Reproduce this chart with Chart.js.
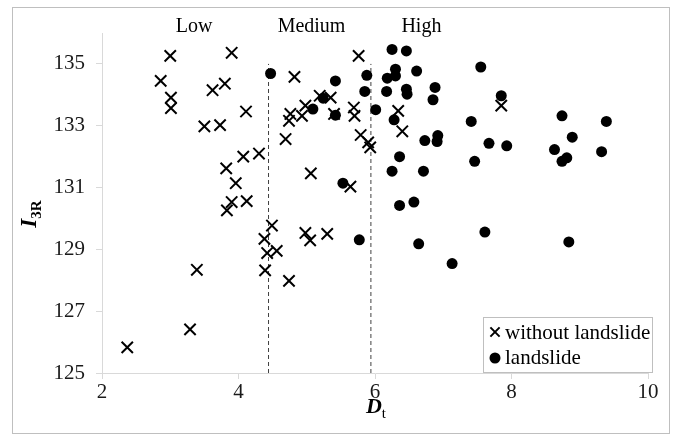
<!DOCTYPE html>
<html>
<head>
<meta charset="utf-8">
<script src="https://cdn.jsdelivr.net/npm/chart.js@4.4.0/dist/chart.umd.min.js"></script>
<style>
  html, body { margin: 0; padding: 0; background: #fff; }
  #wrap { width: 679px; height: 440px; }
</style>
</head>
<body>
<div id="wrap"><canvas id="myChart" width="679" height="440"></canvas></div>
<script>
// values
const noLandslideDt = [3.0, 3.9, 2.86, 3.01, 3.01, 3.62, 3.8, 4.11, 3.5, 3.73, 4.3, 4.07, 3.82, 3.96, 3.9, 3.83, 4.12,
    4.49, 4.38, 4.42, 4.56, 4.39, 4.74, 3.39, 3.29, 2.37,
    4.69, 5.76, 4.82, 5.19, 5.35, 4.98, 4.76, 4.74, 4.93, 5.4, 5.69, 5.7, 5.79, 5.9, 5.93, 5.06, 5.64, 4.98, 5.05, 5.3,
    6.34, 6.4, 7.85];
const noLandslideI3R = [135.26, 135.36, 134.45, 133.91, 133.57, 134.15, 134.36, 133.46, 132.98, 133.02, 132.1, 132.0, 131.62, 131.14, 130.53, 130.26, 130.56,
    129.77, 129.34, 128.88, 128.95, 128.32, 127.98, 128.34, 126.41, 125.83,
    132.57, 135.26, 134.58, 133.97, 133.91, 133.65, 133.38, 133.16, 133.32, 133.38, 133.59, 133.32, 132.7, 132.46, 132.3, 131.46, 131.03, 129.53, 129.29, 129.5,
    133.48, 132.82, 133.65];

const landslideDt = [4.47, 5.09, 5.24, 5.42, 5.42, 5.88, 5.85, 6.01, 5.53, 5.77,
    6.25, 6.46, 6.3, 6.18, 6.3, 6.61, 6.17, 6.46, 6.47, 6.88, 6.85, 6.28, 6.73, 6.92, 6.91, 6.36, 6.25, 6.71,
    6.36, 6.57, 6.64, 7.13, 7.55, 7.85, 7.41, 7.67, 7.93, 7.46, 7.61,
    8.74, 9.39, 8.89, 8.63, 8.81, 8.74, 9.32, 8.84];
const landslideI3R = [134.69, 133.54, 133.89, 134.45, 133.34, 134.63, 134.11, 133.52, 131.14, 129.31,
    135.47, 135.42, 134.83, 134.54, 134.61, 134.77, 134.11, 134.18, 134.02, 134.24, 133.84, 133.19, 132.52, 132.68, 132.49, 132.0, 131.53, 131.53,
    130.42, 130.53, 129.18, 128.54, 134.9, 133.97, 133.14, 132.43, 132.35, 131.85, 129.56,
    133.32, 133.14, 132.63, 132.23, 131.96, 131.85, 132.16, 129.24];

const xTicks = [2, 4, 6, 8, 10];
const yTicks = [125, 127, 129, 131, 133, 135];
const zoneNames = ['Low', 'Medium', 'High'];
const zoneLabelX = [3.35, 5.07, 6.68];
const zoneBounds = [4.44, 5.94];

const serif = "'Liberation Serif', 'Times New Roman', serif";
const ctx = document.getElementById('myChart');

function toPoints(xs, ys) {
    return xs.map((x, i) => ({ x: x, y: ys[i] }));
}

const boundSets = zoneBounds.map(b => ({
    type: 'line',
    data: [{ x: b, y: 125 }, { x: b, y: 135 }],
    borderColor: '#404040',
    borderWidth: 1,
    borderDash: [4, 3],
    pointRadius: 0,
    fill: false
}));

// frame, zone labels, axis titles and legend
const decorations = {
    id: 'decorations',
    beforeDraw(chart) {
        const c = chart.ctx;
        c.save();
        c.fillStyle = '#fff';
        c.fillRect(0, 0, chart.width, chart.height);
        c.strokeStyle = '#bfbfbf';
        c.lineWidth = 1;
        c.strokeRect(12.5, 7.5, 657, 426);
        c.restore();
    },
    afterDraw(chart) {
        const c = chart.ctx;
        const xs = chart.scales.x;
        c.save();
        c.fillStyle = '#000';

        // zone names
        c.font = '20px ' + serif;
        c.textAlign = 'center';
        c.textBaseline = 'alphabetic';
        zoneNames.forEach((n, i) => c.fillText(n, xs.getPixelForValue(zoneLabelX[i]), 32));

        // x title: D (bold italic) + subscript t
        c.textAlign = 'left';
        c.font = 'italic bold 22px ' + serif;
        const dW = c.measureText('D').width;
        c.font = '15px ' + serif;
        const tW = c.measureText('t').width;
        let x0 = 376 - (dW + tW) / 2;
        c.font = 'italic bold 22px ' + serif;
        c.fillText('D', x0, 413);
        c.font = '15px ' + serif;
        c.fillText('t', x0 + dW, 418);

        // y title: I (bold italic) + subscript 3R, rotated
        c.save();
        c.translate(36, 214);
        c.rotate(-Math.PI / 2);
        c.font = 'italic bold 23px ' + serif;
        const iW = c.measureText('I').width;
        c.font = 'bold 15px ' + serif;
        const rW = c.measureText('3R').width;
        x0 = -(iW + rW) / 2;
        c.font = 'italic bold 23px ' + serif;
        c.fillText('I', x0, 0);
        c.font = 'bold 15px ' + serif;
        c.fillText('3R', x0 + iW, 5);
        c.restore();

        // legend box
        c.fillStyle = '#fff';
        c.fillRect(483, 317, 169, 55);
        c.strokeStyle = '#bfbfbf';
        c.lineWidth = 1;
        c.strokeRect(483.5, 317.5, 169, 55);
        c.strokeStyle = '#000';
        c.fillStyle = '#000';
        c.lineWidth = 2;
        Chart.helpers.drawPoint(c, { pointStyle: 'crossRot', radius: 6.5, borderWidth: 2 }, 495, 332);
        Chart.helpers.drawPoint(c, { pointStyle: 'circle', radius: 5.5, borderWidth: 0 }, 495, 358);
        c.font = '21px ' + serif;
        c.textBaseline = 'middle';
        c.fillText('without landslide', 505, 333);
        c.fillText('landslide', 505, 358);
        c.restore();
    }
};

new Chart(ctx, {
    data: {
        datasets: [{
            type: 'scatter',
            label: 'without landslide',
            data: toPoints(noLandslideDt, noLandslideI3R),
            pointStyle: 'crossRot',
            pointRadius: 8,
            pointBorderWidth: 2,
            borderColor: '#000',
            backgroundColor: '#000'
        }, {
            type: 'scatter',
            label: 'landslide',
            data: toPoints(landslideDt, landslideI3R),
            pointStyle: 'circle',
            pointRadius: 5.5,
            pointBorderWidth: 0,
            borderColor: '#000',
            backgroundColor: '#000'
        }, ...boundSets]
    },
    options: {
        responsive: false,
        animation: false,
        layout: { padding: { left: 0, right: 31, top: 33, bottom: 0 } },
        plugins: {
            legend: { display: false },
            tooltip: { enabled: false }
        },
        scales: {
            x: {
                type: 'linear',
                min: 2,
                max: 10,
                afterBuildTicks: s => { s.ticks = xTicks.map(v => ({ value: v })); },
                afterFit: s => { s.height = 67; },
                grid: { drawOnChartArea: false, color: '#d9d9d9', tickLength: 6 },
                border: { color: '#d9d9d9' },
                ticks: { font: { family: serif, size: 21 }, color: '#1a1a1a', padding: 1, maxRotation: 0 }
            },
            y: {
                type: 'linear',
                min: 125,
                max: 136,
                afterBuildTicks: s => { s.ticks = yTicks.map(v => ({ value: v })); },
                afterFit: s => { s.width = 102; },
                grid: { drawOnChartArea: false, color: '#d9d9d9', tickLength: 6 },
                border: { color: '#d9d9d9' },
                ticks: { font: { family: serif, size: 21 }, color: '#1a1a1a', padding: 11 }
            }
        }
    },
    plugins: [decorations]
});
</script>
</body>
</html>
